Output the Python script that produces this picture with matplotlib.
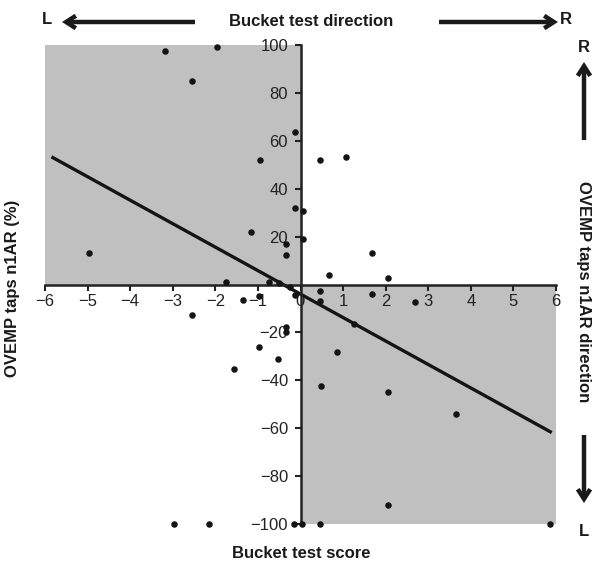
import matplotlib
matplotlib.use("Agg")
import matplotlib.pyplot as plt

plt.rcParams['font.family'] = ['Liberation Sans', 'DejaVu Sans']

# Data (Bucket test score, OVEMP taps n1AR %)
bucket_x = [-3.18, -1.96, -2.55, -4.96, -0.96, -1.16, -0.13, -0.14, -0.34, -0.35,
            -1.75, -0.74, -0.51,
            0.05, 0.05, 0.45, 1.06, 1.67, 0.67, 2.06,
            -1.35, -0.97, -0.14, -2.55, -0.34, -0.34, -0.97, -0.54, -1.55,
            -2.98, -2.16, -0.16, -0.24,
            0.04, 0.45, 0.45, 1.67, 2.68, 1.25, 0.86, 0.49, 2.06, 3.66, 2.06,
            0.45, 5.87]
ovemp_y = [97.6, 99.3, 85.0, 13.0, 52.0, 22.0, 63.7, 31.9, 17.0, 12.3,
           1.2, 1.2, 0.5,
           30.8, 18.8, 52.0, 53.3, 13.0, 4.0, 2.6,
           -6.4, -5.0, -4.4, -12.7, -17.9, -19.7, -25.9, -31.1, -35.3,
           -100, -100, -100, -1.0,
           -100, -2.8, -6.7, -3.9, -7.4, -16.5, -28.3, -42.3, -44.8, -54.1, -92.2,
           -100, -100]

# regression line
fit_slope = -9.8
fit_intercept = -4.0
fit_xrange = [-5.85, 5.9]

xticks = [-6, -5, -4, -3, -2, -1, 0, 1, 2, 3, 4, 5, 6]
yticks = [-100, -80, -60, -40, -20, 20, 40, 60, 80, 100]
xlim = (-6, 6)
ylim = (-100, 100)

W, H = 602, 565
fig = plt.figure(figsize=(W / 100, H / 100), dpi=100)
ax = fig.add_axes([45 / W, 41 / H, 511 / W, 479 / H])
ax.set_xlim(*xlim)
ax.set_ylim(*ylim)

gray = '#c0c0c0'
ax.fill_between([xlim[0], 0], 0, ylim[1], color=gray, lw=0, zorder=0)
ax.fill_between([0, xlim[1]], ylim[0], 0, color=gray, lw=0, zorder=0)

ax.scatter(bucket_x, ovemp_y, s=22, color='#141414', zorder=3, clip_on=False, linewidths=0)
fy = [fit_intercept + fit_slope * v for v in fit_xrange]
ax.plot(fit_xrange, fy, color='#141414', lw=2.4, solid_capstyle='butt', zorder=2)

for s in ['top', 'right']:
    ax.spines[s].set_visible(False)
ax.spines['left'].set_position(('data', 0))
ax.spines['bottom'].set_position(('data', 0))
for s in ['left', 'bottom']:
    ax.spines[s].set_linewidth(1.8)
    ax.spines[s].set_color('#222222')
    ax.spines[s].set_zorder(2.5)

ax.set_xticks(xticks)
ax.set_xticklabels([str(v).replace('-', '\u2212') for v in xticks])
ax.set_yticks(yticks)
ax.set_yticklabels([str(v).replace('-', '\u2212') for v in yticks])
ax.tick_params(axis='both', direction='out', length=4, width=1.5, color='#222222',
               labelsize=12, labelcolor='#222222')
ax.tick_params(axis='y', pad=5)
ax.tick_params(axis='x', pad=3)
ax.patch.set_visible(False)

def fp(x, y):
    return (x, H - y)

bold = dict(fontsize=12, fontweight='bold', color='#1a1a1a', ha='center', va='center')
fig.text(311 / W, 1 - 22 / H, 'Bucket test direction', **bold)
fig.text(47 / W, 1 - 19 / H, 'L', **bold)
fig.text(566 / W, 1 - 19 / H, 'R', **bold)
fig.text(584 / W, 1 - 48 / H, 'R', **bold)
fig.text(584 / W, 1 - 532 / H, 'L', **bold)
fig.text(584 / W, 1 - 292 / H, 'OVEMP taps n1AR direction', rotation=-90, **bold)
fig.text(13 / W, 1 - 288 / H, 'OVEMP taps n1AR (%)', rotation=90, **bold)
fig.text(301 / W, 1 - 553 / H, 'Bucket test score', **bold)

arrow = dict(arrowstyle='->,head_length=0.7,head_width=0.45', lw=3.2, color='#1a1a1a',
             shrinkA=0, shrinkB=0, capstyle='butt', joinstyle='miter')
for start, end in [((195, 22), (62, 22)), ((439, 22), (558, 22)),
                   ((584, 140), (584, 62)), ((584, 435), (584, 503))]:
    ax.annotate('', xy=fp(*end), xytext=fp(*start), xycoords='figure pixels',
                textcoords='figure pixels', arrowprops=arrow)

fig.savefig('out.png', dpi=100)
